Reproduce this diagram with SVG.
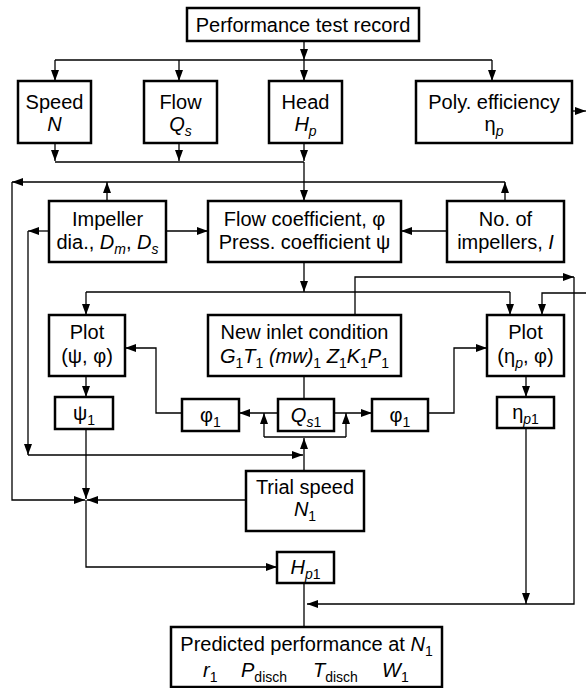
<svg xmlns="http://www.w3.org/2000/svg" width="586" height="688" viewBox="0 0 586 688">
<defs>
<style>
.b{fill:#fff;stroke:#000;stroke-width:2.5}
.c{fill:none;stroke:#000;stroke-width:1.3}
text{font-family:"Liberation Sans",Arial,Helvetica,sans-serif;font-size:20px;text-anchor:middle;fill:#000}
.i{font-style:italic}
.s{font-size:14px}
</style>
<marker id="a" viewBox="0 0 11 8" refX="11" refY="4" markerWidth="11" markerHeight="8" orient="auto" markerUnits="userSpaceOnUse"><path d="M0,0 L11,4 L0,8 z" fill="#000"/></marker>
</defs>
<rect width="586" height="688" fill="#fff"/>
<g id="connectors" class="c">
<path d="M304,41 V60" marker-end="url(#a)"/>
<path d="M55,60 H492"/>
<path d="M55,60 V81" marker-end="url(#a)"/>
<path d="M179,60 V81" marker-end="url(#a)"/>
<path d="M304,60 V81" marker-end="url(#a)"/>
<path d="M492,60 V81" marker-end="url(#a)"/>
<path d="M572,111 H586" marker-end="url(#a)"/>
<path d="M55,143 V161" marker-end="url(#a)"/>
<path d="M179,143 V161" marker-end="url(#a)"/>
<path d="M304,143 V161" marker-end="url(#a)"/>
<path d="M55,162 H304"/>
<path d="M304,162 V201" marker-end="url(#a)"/>
<path d="M505,182 H12" marker-end="url(#a)"/>
<path d="M12,182 V500 H85" marker-end="url(#a)"/>
<path d="M107,201 V182" marker-end="url(#a)"/>
<path d="M505,201 V182" marker-end="url(#a)"/>
<path d="M166,231 H208" marker-end="url(#a)"/>
<path d="M447,231 H401" marker-end="url(#a)"/>
<path d="M49,231 H28" marker-end="url(#a)"/>
<path d="M28,231 V455" marker-end="url(#a)"/>
<path d="M28,455 H303" marker-end="url(#a)"/>
<path d="M304,262 V292" marker-end="url(#a)"/>
<path d="M86,292 H510"/>
<path d="M86,292 V315" marker-end="url(#a)"/>
<path d="M510,292 V315" marker-end="url(#a)"/>
<path d="M355,315 V277 H574" marker-end="url(#a)"/>
<path d="M574,277 V604 H307" marker-end="url(#a)"/>
<path d="M586,293 H542 V315" marker-end="url(#a)"/>
<path d="M526,376 V397" marker-end="url(#a)"/>
<path d="M526,428 V604" marker-end="url(#a)"/>
<path d="M86,376 V397" marker-end="url(#a)"/>
<path d="M86,429 V499" marker-end="url(#a)"/>
<path d="M246,500 H87" marker-end="url(#a)"/>
<path d="M86,500 V567 H277" marker-end="url(#a)"/>
<path d="M304,471 V438" marker-end="url(#a)"/>
<path d="M264,437 H346"/>
<path d="M264,437 V413" marker-end="url(#a)"/>
<path d="M346,437 V413" marker-end="url(#a)"/>
<path d="M278,413 H239" marker-end="url(#a)"/>
<path d="M334,413 H372" marker-end="url(#a)"/>
<path d="M182,413 H156 V348 H125" marker-end="url(#a)"/>
<path d="M428,413 H454 V348 H487" marker-end="url(#a)"/>
<path d="M304,376 V399"/>
<path d="M304,583 V627"/>
</g>
<g id="n-record"><rect class="b" x="187" y="8" width="232" height="33"/><text x="303" y="32">Performance test record</text></g>
<g id="n-speed"><rect class="b" x="18" y="81" width="73" height="62"/><text x="54.5" y="109">Speed</text><text x="54.5" y="131" class="i">N</text></g>
<g id="n-flow"><rect class="b" x="144" y="81" width="73" height="62"/><text x="180.5" y="109">Flow</text><text x="180.5" y="131" class="i">Q<tspan class="s" dy="5">s</tspan></text></g>
<g id="n-head"><rect class="b" x="269" y="81" width="73" height="62"/><text x="305.5" y="109">Head</text><text x="305.5" y="131" class="i">H<tspan class="s" dy="5">p</tspan></text></g>
<g id="n-poly"><rect class="b" x="416" y="81" width="156" height="62"/><text x="494" y="109">Poly. efficiency</text><text x="494" y="131">η<tspan class="s i" dy="5">p</tspan></text></g>
<g id="n-impeller"><rect class="b" x="49" y="201" width="117" height="61"/><text x="107.5" y="226">Impeller</text><text x="107.5" y="249">dia., <tspan class="i">D</tspan><tspan class="s i" dy="5">m</tspan><tspan dy="-5">, </tspan><tspan class="i">D</tspan><tspan class="s i" dy="5">s</tspan></text></g>
<g id="n-coef"><rect class="b" x="208" y="201" width="193" height="61"/><text x="304.5" y="226">Flow coefficient, φ</text><text x="304.5" y="249">Press. coefficient ψ</text></g>
<g id="n-nimp"><rect class="b" x="447" y="201" width="117" height="61"/><text x="505.5" y="226">No. of</text><text x="505.5" y="249">impellers, <tspan class="i">I</tspan></text></g>
<g id="n-plotpsi"><rect class="b" x="49" y="315" width="76" height="61"/><text x="87" y="339">Plot</text><text x="87" y="363">(ψ, φ)</text></g>
<g id="n-inlet"><rect class="b" x="208" y="315" width="193" height="61"/><text x="304.5" y="339">New inlet condition</text><text x="304.5" y="363"><tspan class="i">G</tspan><tspan class="s" dy="5">1</tspan><tspan class="i" dy="-5">T</tspan><tspan class="s" dy="5">1</tspan><tspan class="i" dy="-5"> (mw)</tspan><tspan class="s" dy="5">1</tspan><tspan class="i" dy="-5"> Z</tspan><tspan class="s" dy="5">1</tspan><tspan class="i" dy="-5">K</tspan><tspan class="s" dy="5">1</tspan><tspan class="i" dy="-5">P</tspan><tspan class="s" dy="5">1</tspan></text></g>
<g id="n-ploteta"><rect class="b" x="487" y="315" width="77" height="61"/><text x="525.5" y="339">Plot</text><text x="525.5" y="363">(η<tspan class="s i" dy="5">p</tspan><tspan dy="-5">, φ)</tspan></text></g>
<g id="n-psi1"><rect class="b" x="55" y="397" width="58" height="32"/><text x="84" y="420">ψ<tspan class="s" dy="5">1</tspan></text></g>
<g id="n-phi1a"><rect class="b" x="182" y="399" width="57" height="32"/><text x="210.5" y="422">φ<tspan class="s" dy="5">1</tspan></text></g>
<g id="n-qs1"><rect class="b" x="278" y="399" width="56" height="32"/><text x="306" y="422"><tspan class="i">Q</tspan><tspan class="s i" dy="5">s</tspan><tspan class="s">1</tspan></text></g>
<g id="n-phi1b"><rect class="b" x="372" y="399" width="56" height="32"/><text x="400" y="422">φ<tspan class="s" dy="5">1</tspan></text></g>
<g id="n-eta1"><rect class="b" x="497" y="397" width="57" height="31"/><text x="525.5" y="419">η<tspan class="s i" dy="5">p</tspan><tspan class="s">1</tspan></text></g>
<g id="n-trial"><rect class="b" x="246" y="471" width="118" height="60"/><text x="305" y="494">Trial speed</text><text x="305" y="516"><tspan class="i">N</tspan><tspan class="s" dy="5">1</tspan></text></g>
<g id="n-hp1"><rect class="b" x="277" y="552" width="57" height="31"/><text x="305.5" y="574"><tspan class="i">H</tspan><tspan class="s i" dy="5">p</tspan><tspan class="s">1</tspan></text></g>
<g id="n-pred"><rect class="b" x="171" y="627" width="271" height="60"/><text x="306.5" y="651">Predicted performance at <tspan class="i">N</tspan><tspan class="s" dy="5">1</tspan></text><text y="677" style="text-anchor:start"><tspan x="203" class="i">r</tspan><tspan class="s" dy="5">1</tspan><tspan x="241" dy="-5" class="i">P</tspan><tspan class="s" dy="5">disch</tspan><tspan x="313" dy="-5" class="i">T</tspan><tspan class="s" dy="5">disch</tspan><tspan x="382" dy="-5" class="i">W</tspan><tspan class="s" dy="5">1</tspan></text></g>
</svg>
